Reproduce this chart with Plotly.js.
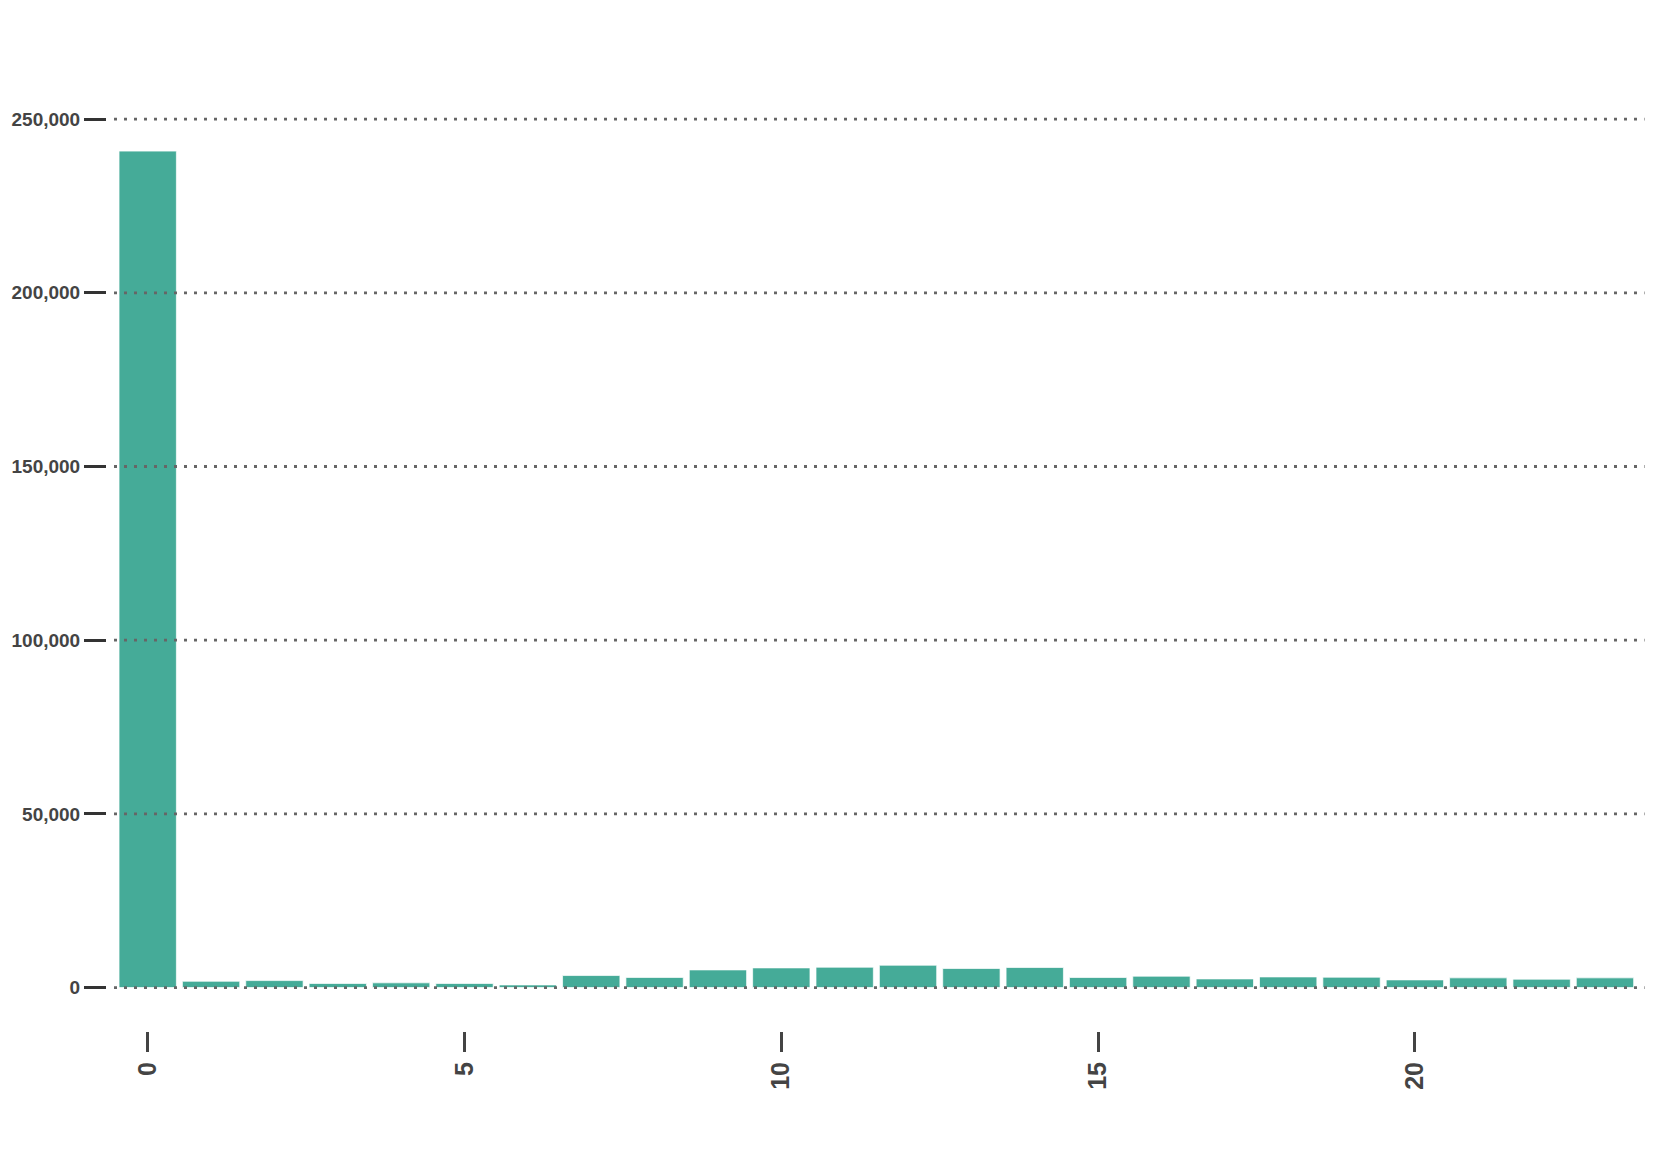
<!DOCTYPE html>
<html>
<head>
<meta charset="utf-8">
<script src="https://cdn.plot.ly/plotly-3.0.1.min.js"></script>
<style>
  html, body { margin: 0; padding: 0; background: #fff; }
  #chart { width: 1661px; height: 1163px; }
</style>
</head>
<body>
<div id="chart"></div>
<script>
// hour buckets and counts
const hours = [0, 1, 2, 3, 4, 5, 6, 7, 8, 9, 10, 11, 12, 13, 14, 15, 16, 17, 18, 19, 20, 21, 22, 23];
const counts = [240800, 1800, 2000, 1150, 1350, 1150, 750, 3450, 2900, 5070, 5650, 5850,
                6420, 5470, 5760, 2880, 3260, 2480, 3050, 2970, 2200, 2780, 2400, 2780];

const xTicks = [0, 5, 10, 15, 20];
const yTicks = [0, 50000, 100000, 150000, 200000, 250000];

const W = 1661, H = 1163;

const bars = {
  type: 'bar',
  x: hours,
  y: counts,
  marker: {
    color: '#45ab98',
    line: { color: 'rgba(255,255,255,0.7)', width: 1 }
  },
  hoverinfo: 'x+y'
};

// dotted grid drawn on top of the bars, like the original
const grid = yTicks.map(v => ({
  type: 'line',
  layer: 'above',
  xref: 'x domain', x0: 0, x1: 1.001,
  yref: 'y', y0: v, y1: v,
  line: { color: '#666', width: 2.8, dash: '3px,7px' }
}));

const layout = {
  width: W,
  height: H,
  margin: { l: 0, r: 0, t: 0, b: 0 },
  paper_bgcolor: '#fff',
  plot_bgcolor: '#fff',
  showlegend: false,
  bargap: 0.095,
  font: { family: 'Liberation Sans, Arial, sans-serif', color: '#444' },
  shapes: grid,
  xaxis: {
    domain: [114 / W, 1643 / W],
    range: [-0.532, 23.6],
    anchor: 'free',
    position: (H - 1031) / H,
    tickmode: 'array',
    tickvals: xTicks,
    ticktext: xTicks.map(String),
    ticks: 'outside',
    ticklen: 20,
    tickwidth: 3,
    tickcolor: '#444',
    tickangle: -90,
    tickfont: { size: 25, family: 'Liberation Sans, Arial, sans-serif', color: '#444', weight: 'bold' },
    showgrid: false,
    zeroline: false,
    showline: false,
    automargin: false
  },
  yaxis: {
    domain: [(H - 991) / H, (H - 101.8) / H],
    range: [-1000, 255000],
    anchor: 'free',
    position: 106 / W,
    tickmode: 'array',
    tickvals: yTicks,
    ticktext: yTicks.map(v => v.toLocaleString('en-US')),
    ticks: 'outside',
    ticklen: 22,
    tickwidth: 3,
    tickcolor: '#333',
    tickfont: { size: 19, family: 'Liberation Sans, Arial, sans-serif', color: '#444', weight: 'bold' },
    showgrid: false,
    zeroline: false,
    showline: false,
    automargin: false
  }
};

Plotly.newPlot('chart', [bars], layout, { displayModeBar: false, staticPlot: true });
</script>
</body>
</html>
